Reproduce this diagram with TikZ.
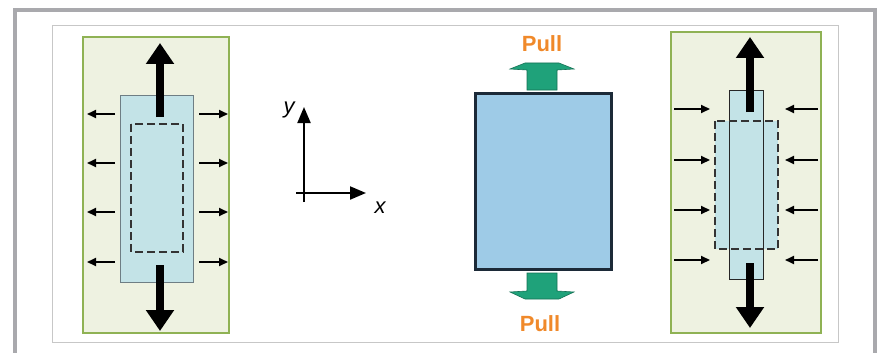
\documentclass[tikz,border=0pt]{standalone}
\usepackage{fontspec}
\setmainfont{Liberation Sans}
\usepackage{xcolor}
\usetikzlibrary{arrows.meta, positioning}

\definecolor{PanelGreen}{HTML}{EEF2E1}
\definecolor{PanelEdge}{HTML}{8FB254}
\definecolor{BarBlue}{HTML}{C3E3E7}
\definecolor{BarEdge}{HTML}{6E7E84}
\definecolor{BlockBlue}{HTML}{9ECBE7}
\definecolor{BlockEdge}{HTML}{1C2A38}
\definecolor{PullGreen}{HTML}{1FA27A}
\definecolor{PullOrange}{HTML}{F0892A}
\definecolor{FrameGray}{HTML}{A9A9AD}

\begin{document}
\begin{tikzpicture}[x=1pt, y=-1pt,
    panel/.style={draw=PanelEdge, fill=PanelGreen, line width=1.5pt},
    bar/.style={draw=BarEdge, fill=BarBlue, line width=1pt},
    dashbox/.style={draw=black!80, dash pattern=on 8pt off 4pt, line width=1.9pt},
    bigarrow/.style={line width=8pt, -{Triangle[width=27pt,length=21pt]}},
    smallarrow/.style={line width=2pt, -{Triangle[width=8pt,length=9pt]}},
    axis/.style={line width=2pt, -{Triangle[width=13pt,length=16pt]}},
    pullarrow/.style={fill=PullGreen, draw=PullGreen!70!black, line width=0.6pt},
    pulltext/.style={font=\fontsize{22}{24}\selectfont\bfseries, text=PullOrange, anchor=base},
    axislabel/.style={font=\fontsize{22}{24}\selectfont\itshape, anchor=base},
  ]
  \useasboundingbox (0,0) rectangle (880,353);

  % frames
  \draw[FrameGray, line width=4.5pt] (15,353) -- (15,10) -- (875,10) -- (875,353);
  \draw[black!22, line width=0.8pt] (52,25) rectangle (838,342);

  % left panel: bar under tension, widens
  \path[panel] (83,37) rectangle (229,333);
  \path[bar] (120,95) rectangle (193,282);
  \path[dashbox] (131,124) rectangle (183,252);
  \coordinate (ltop) at (160,117);
  \coordinate (lbot) at (160,265);
  \draw[bigarrow] (ltop) -- (160,43);
  \draw[bigarrow] (lbot) -- (160,331);
  \foreach \y in {114,163,212,262} {
    \draw[smallarrow] (115,\y) -- (87,\y);
    \draw[smallarrow] (199,\y) -- (228,\y);
  }

  % axes
  \coordinate (origin) at (304,193);
  \coordinate (xtip) at (366,193);
  \coordinate (ytip) at (304,107);
  \draw[axis] (296,193) -- (xtip);
  \draw[axis] (304,202) -- (ytip);
  \node[axislabel] (ylabel) at (289,113) {y};
  \node[axislabel] (xlabel) at (380,213) {x};

  % middle block with pull arrows
  \path[draw=BlockEdge, fill=BlockBlue, line width=3pt] (475,93) rectangle (611,269);
  \path[pullarrow] (527,90) -- (527,70) -- (510,69) -- (525,63) -- (559,63)
    -- (574,69) -- (557,70) -- (557,90) -- cycle;
  \path[pullarrow] (527,273) -- (527,291) -- (510,292) -- (525,299) -- (559,299)
    -- (574,292) -- (557,291) -- (557,273) -- cycle;
  \node[pulltext] (pulltop) at (542,52) {Pull};
  \node[pulltext] (pullbot) at (540,331) {Pull};

  % right panel: bar squeezed, narrows
  \path[panel] (671,32) rectangle (821,333);
  \path[fill=BarBlue] (715,121) rectangle (778,249);
  \path[bar, draw=black!85] (729,90) rectangle (763,279);
  \path[dashbox] (715,121) rectangle (778,249);
  \coordinate (rtop) at (750,112);
  \coordinate (rbot) at (750,263);
  \draw[bigarrow] (rtop) -- (750,37);
  \draw[bigarrow] (rbot) -- (750,328);
  \foreach \y in {109,160,210,260} {
    \draw[smallarrow] (674,\y) -- (710,\y);
    \draw[smallarrow] (818,\y) -- (785,\y);
  }
\end{tikzpicture}
\end{document}
